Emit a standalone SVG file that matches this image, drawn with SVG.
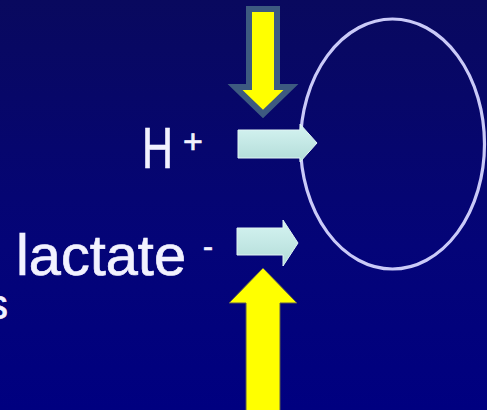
<svg xmlns="http://www.w3.org/2000/svg" width="487" height="410" viewBox="0 0 487 410">
  <defs>
    <linearGradient id="bg" x1="0" y1="0" x2="0" y2="1">
      <stop offset="0" stop-color="#09095e"/>
      <stop offset="0.6" stop-color="#040478"/>
      <stop offset="1" stop-color="#000080"/>
    </linearGradient>
    <linearGradient id="cyan" x1="0" y1="0" x2="0" y2="1">
      <stop offset="0" stop-color="#d6f4f2"/>
      <stop offset="1" stop-color="#b2dcd8"/>
    </linearGradient>
    <style>
      .lbl { font-family: "Liberation Sans", Arial, sans-serif; fill: #f2f2ff; stroke: #f2f2ff; stroke-width: 0.7; }
      .cyanarrow { fill: url(#cyan); stroke: #e0f4f4; stroke-width: 1; }
      .cell { fill: none; stroke: #cacaf8; stroke-width: 3.2; }
    </style>
  </defs>
  <rect width="487" height="410" fill="url(#bg)"/>

  <g id="cell">
    <ellipse class="cell" cx="392.5" cy="144" rx="92" ry="125"/>
  </g>

  <g id="connectors">
    <polygon id="arrow-top" points="249,9 277,9 277,87 291,87 263,114 235,87 249,87" fill="#ffff00" stroke="#3d5a80" stroke-width="6" stroke-linejoin="miter"/>
    <polygon id="arrow-bottom" points="263,268 297,303 280,303 280,412 246,412 246,303 229,303" fill="#ffff00" stroke="#5a5a50" stroke-width="1"/>
    <polygon id="arrow-h" class="cyanarrow" points="238,130 300,130 300,124 317,143 300,162 300,158 238,158"/>
    <polygon id="arrow-lactate" class="cyanarrow" points="237,228 283,228 283,220 298,243 283,266 283,255 237,255"/>
  </g>

  <g id="label-h">
    <text class="lbl" x="142" y="168" font-size="58" textLength="31" lengthAdjust="spacingAndGlyphs">H</text>
    <text class="lbl" x="183" y="153" font-size="34">+</text>
  </g>
  <g id="label-lactate">
    <text class="lbl" x="16" y="275" font-size="57" textLength="170" lengthAdjust="spacingAndGlyphs">lactate</text>
    <text class="lbl" x="203" y="257" font-size="30">-</text>
  </g>
  <g id="label-s">
    <text class="lbl" x="8" y="319" font-size="42" text-anchor="end">s</text>
  </g>
</svg>
